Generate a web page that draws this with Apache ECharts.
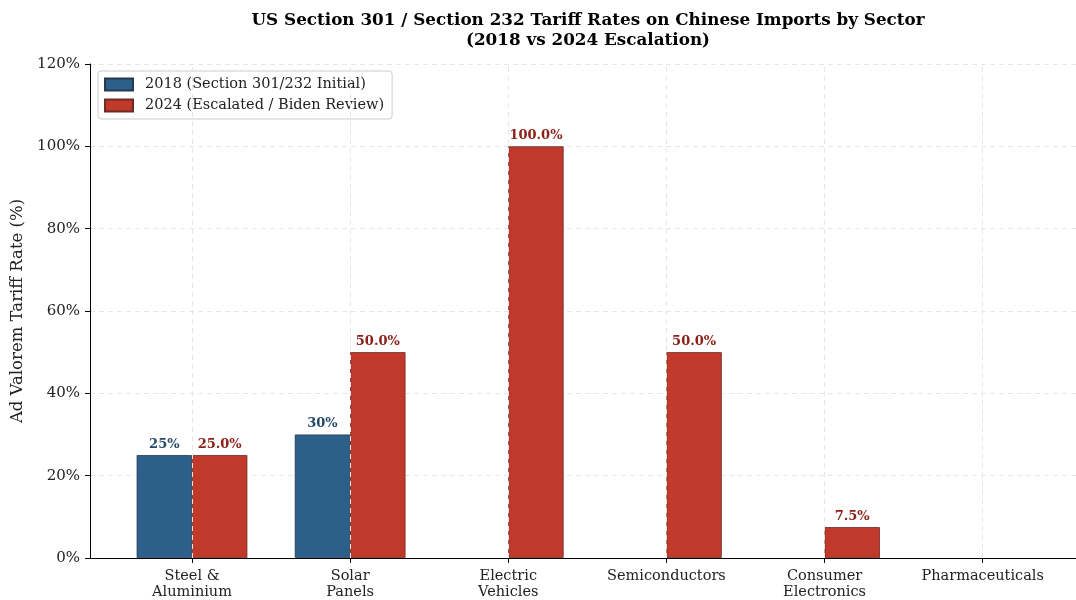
<!DOCTYPE html>
<html>
<head>
<meta charset="utf-8">
<script src="https://cdn.jsdelivr.net/npm/echarts@6/dist/echarts.min.js"></script>
<style>
  html, body { margin: 0; padding: 0; background: #fff; }
  #chart { width: 1076px; height: 600px; }
</style>
</head>
<body>
<div id="chart"></div>
<script>
// Sector categories and tariff rates (%)
const sectors = ['Steel &\nAluminium', 'Solar\nPanels', 'Electric\nVehicles', 'Semiconductors', 'Consumer\nElectronics', 'Pharmaceuticals'];
const rates2018 = [25, 30, 0, 0, 0, 0];
const rates2024 = [25, 50, 100, 50, 7.5, 0];
const yTicks = [0, 20, 40, 60, 80, 100, 120];

const FONT = 'DejaVu Serif';
const BAR_W = 0.35;          // bar width in category units
const positions = sectors.map((_, i) => i);

const chart = echarts.init(document.getElementById('chart'), null, { renderer: 'canvas' });

const gridLeft = 90, gridRight = 0, gridTop = 64, gridBottom = 41;
const xMin = -0.645, xMax = 5.59;
const unitPx = (1076 - gridLeft - gridRight) / (xMax - xMin);

// zero-height bars get no outline
function barItems(values, offset, style) {
  return values.map((v, i) => ({
    value: [i + offset, v],
    itemStyle: v > 0 ? style : Object.assign({}, style, { borderWidth: 0 })
  }));
}

const style2018 = { color: '#2c5f8a', borderColor: '#26394d', borderWidth: 0.8 };
const style2024 = { color: '#c0392b', borderColor: '#6e2a24', borderWidth: 0.8 };

chart.setOption({
  animation: false,
  title: {
    text: 'US Section 301 / Section 232 Tariff Rates on Chinese Imports by Sector\n(2018 vs 2024 Escalation)',
    left: 583, top: 6, textAlign: 'center',
    textStyle: { fontFamily: FONT, fontWeight: 'bold', fontSize: 16.8, color: '#000', lineHeight: 20 }
  },
  legend: {
    orient: 'vertical', left: 98, top: 71,
    padding: [6, 8, 6, 6], itemGap: 6,
    itemWidth: 28, itemHeight: 12, icon: 'rect',
    borderColor: '#cccccc', borderWidth: 1, borderRadius: 3,
    backgroundColor: 'rgba(255,255,255,0.8)',
    textStyle: { fontFamily: FONT, fontSize: 14.5, color: '#222', padding: [0, 0, 0, 7] },
    data: ['2018 (Section 301/232 Initial)', '2024 (Escalated / Biden Review)']
  },
  grid: { left: gridLeft, right: gridRight, top: gridTop, bottom: gridBottom, containLabel: false },
  xAxis: {
    type: 'value', min: xMin, max: xMax,
    axisLine: { show: true, onZero: false, lineStyle: { color: '#000', width: 1 } },
    axisTick: { show: true, customValues: positions, length: 5, lineStyle: { color: '#000' } },
    axisLabel: {
      customValues: positions,
      formatter: v => sectors[Math.round(v)] || '',
      fontFamily: FONT, fontSize: 14.5, color: '#222', lineHeight: 16, margin: 10
    },
    splitLine: { show: false }
  },
  yAxis: {
    type: 'value', min: 0, max: 120, interval: 20,
    name: 'Ad Valorem Tariff Rate (%)', nameLocation: 'middle', nameGap: 61, nameRotate: 90,
    nameTextStyle: { fontFamily: FONT, fontSize: 16.5, color: '#222' },
    axisLine: { show: true, onZero: false, lineStyle: { color: '#000', width: 1 } },
    axisTick: { show: true, length: 5, lineStyle: { color: '#000' } },
    axisLabel: {
      formatter: v => yTicks.includes(v) ? v + '%' : '',
      fontFamily: FONT, fontSize: 15, color: '#222', margin: 10
    },
    splitLine: { show: true, lineStyle: { color: '#e6e6e6', type: [5, 4], width: 1 } }
  },
  series: [
    {
      // vertical dashed gridlines at each sector
      type: 'line', data: [], silent: true,
      markLine: {
        symbol: 'none', silent: true, label: { show: false },
        lineStyle: { color: '#e6e6e6', type: [5, 4], width: 1 },
        data: positions.map(p => ({ xAxis: p }))
      }
    },
    {
      name: '2018 (Section 301/232 Initial)', type: 'bar',
      barWidth: BAR_W * unitPx, barGap: '-100%',
      data: barItems(rates2018, -BAR_W / 2, style2018),
      itemStyle: style2018,
      label: {
        show: true, position: 'top', distance: 4,
        formatter: p => p.value[1] > 0 ? p.value[1] + '%' : '',
        fontFamily: FONT, fontWeight: 'bold', fontSize: 13, color: '#24496b'
      }
    },
    {
      name: '2024 (Escalated / Biden Review)', type: 'bar',
      barWidth: BAR_W * unitPx, barGap: '-100%',
      data: barItems(rates2024, BAR_W / 2, style2024),
      itemStyle: style2024,
      label: {
        show: true, position: 'top', distance: 4,
        formatter: p => p.value[1] > 0 ? p.value[1].toFixed(1) + '%' : '',
        fontFamily: FONT, fontWeight: 'bold', fontSize: 13, color: '#8b2118'
      }
    }
  ]
});
</script>
</body>
</html>
